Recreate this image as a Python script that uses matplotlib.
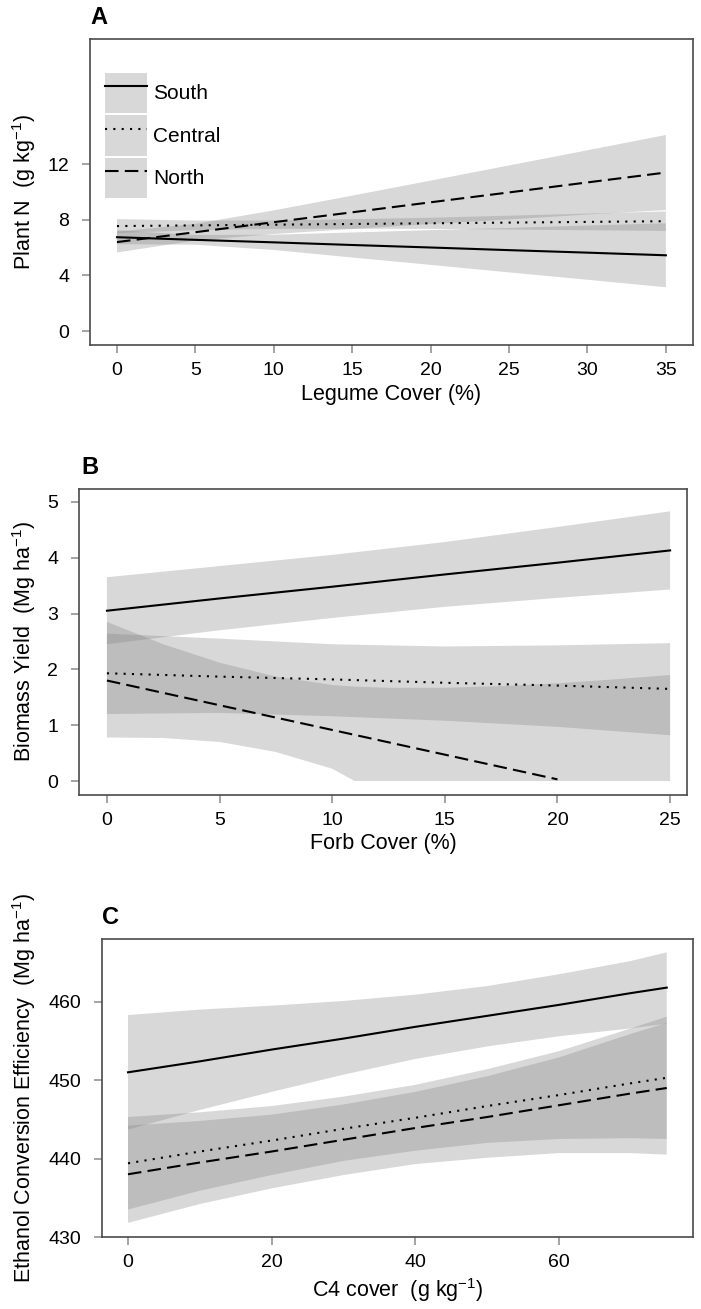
import matplotlib
matplotlib.use("Agg")
import matplotlib.pyplot as plt
from matplotlib import font_manager
from matplotlib.patches import Patch
from matplotlib.lines import Line2D

names = {f.name for f in font_manager.fontManager.ttflist}
FAM = "Liberation Sans" if "Liberation Sans" in names else "DejaVu Sans"
plt.rcParams["font.family"] = [FAM, "DejaVu Sans"]
plt.rcParams["mathtext.fontset"] = "custom"
plt.rcParams["mathtext.rm"] = FAM
plt.rcParams["mathtext.it"] = FAM + ":italic"
plt.rcParams["mathtext.default"] = "regular"

# ---------------- data ----------------
series_names = ["South", "Central", "North"]

# Panel A: Plant N vs Legume cover
a_x = [0, 5, 10, 15, 20, 25, 30, 35]
a_south_fit = [6.75, 6.56, 6.38, 6.19, 6.01, 5.82, 5.64, 5.45]
a_south_lo = [6.25, 6.21, 5.83, 5.29, 4.76, 4.22, 3.69, 3.15]
a_south_hi = [7.25, 6.91, 6.93, 7.09, 7.26, 7.42, 7.59, 7.75]
a_central_fit = [7.55, 7.60, 7.65, 7.70, 7.75, 7.80, 7.85, 7.90]
a_central_lo = [7.05, 7.25, 7.35, 7.35, 7.35, 7.30, 7.25, 7.20]
a_central_hi = [8.05, 7.95, 7.95, 8.05, 8.15, 8.30, 8.45, 8.60]
a_north_fit = [6.40, 7.11, 7.83, 8.54, 9.26, 9.97, 10.69, 11.40]
a_north_lo = [5.65, 6.51, 6.98, 7.34, 7.70, 8.03, 8.38, 8.70]
a_north_hi = [7.15, 7.71, 8.68, 9.74, 10.82, 11.91, 13.00, 14.10]
a_xticks = [0, 5, 10, 15, 20, 25, 30, 35]
a_yticks = [0, 4, 8, 12]

# Panel B: Biomass yield vs Forb cover
b_x = [0, 5, 10, 15, 20, 25]
b_south_fit = [3.05, 3.27, 3.48, 3.70, 3.91, 4.13]
b_south_lo = [2.45, 2.70, 2.92, 3.12, 3.28, 3.43]
b_south_hi = [3.65, 3.85, 4.05, 4.28, 4.55, 4.83]
b_central_fit = [1.93, 1.87, 1.82, 1.76, 1.71, 1.65]
b_central_lo = [1.20, 1.22, 1.16, 1.08, 0.97, 0.82]
b_central_hi = [2.64, 2.55, 2.45, 2.41, 2.43, 2.47]
b_north_x = [0, 2.5, 5, 7.5, 10, 11, 12.5, 15, 17.5, 20, 22.5, 25]
b_north_lo = [0.78, 0.77, 0.70, 0.52, 0.22, 0.0, 0.0, 0.0, 0.0, 0.0, 0.0, 0.0]
b_north_hi = [2.85, 2.45, 2.12, 1.87, 1.72, 1.69, 1.67, 1.67, 1.70, 1.75, 1.82, 1.90]
b_north_line_x = [0, 20]
b_north_line_y = [1.80, 0.03]
b_xticks = [0, 5, 10, 15, 20, 25]
b_yticks = [0, 1, 2, 3, 4, 5]

# Panel C: Ethanol conversion efficiency vs C4 cover
c_x = [0, 10, 20, 30, 40, 50, 60, 70, 75]
c_south_fit = [451.0, 452.4, 453.9, 455.3, 456.8, 458.2, 459.6, 461.1, 461.8]
c_south_lo = [443.7, 446.2, 448.5, 450.7, 452.7, 454.3, 455.6, 456.6, 457.2]
c_south_hi = [458.3, 459.0, 459.5, 460.1, 460.9, 462.0, 463.5, 465.2, 466.3]
c_central_fit = [439.4, 440.9, 442.3, 443.8, 445.2, 446.7, 448.1, 449.6, 450.3]
c_central_lo = [433.5, 435.9, 437.9, 439.7, 441.0, 442.0, 442.5, 442.6, 442.5]
c_central_hi = [445.3, 445.9, 446.7, 447.9, 449.4, 451.4, 453.7, 456.6, 458.1]
c_north_fit = [438.0, 439.5, 440.9, 442.4, 443.9, 445.3, 446.8, 448.3, 449.0]
c_north_lo = [431.8, 434.2, 436.2, 437.9, 439.3, 440.1, 440.7, 440.7, 440.5]
c_north_hi = [444.2, 444.8, 445.6, 446.9, 448.5, 450.5, 452.9, 455.9, 457.3]
c_xticks = [0, 20, 40, 60]
c_yticks = [430, 440, 450, 460]

# ---------------- style ----------------
W, H = 701, 1309
RIB = dict(facecolor="0.5", alpha=0.3, linewidth=0)
LW = 1.5
STY = {"South": "-", "Central": (0, (1, 3)), "North": (0, (6.5, 3))}
FS_TICK = 14
FS_LAB = 15.5
FS_LEG = 15

fig = plt.figure(figsize=(W / 100, H / 100), dpi=100)


def make_ax(L, R, T, B):
    return fig.add_axes([L / W, 1 - B / H, (R - L) / W, (B - T) / H])


def style(ax, xticks, yticks, xlim, ylim, xlabel, ylabel, ylab_x, xlab_y):
    ax.set_xlim(*xlim)
    ax.set_ylim(*ylim)
    ax.set_xticks(xticks)
    ax.set_yticks(yticks)
    ax.set_xticklabels([str(t) for t in xticks])
    ax.set_yticklabels([str(t) for t in yticks])
    for s in ax.spines.values():
        s.set_color("#4a4a4a")
        s.set_linewidth(1.2)
    ax.tick_params(axis="both", direction="out", length=6, width=1.1,
                   color="#8a8a8a", labelsize=FS_TICK, labelcolor="black")
    ax.tick_params(axis="y", pad=9)
    ax.tick_params(axis="x", pad=6)
    ax.set_xlabel(xlabel, fontsize=FS_LAB, va="baseline")
    ax.set_ylabel(ylabel, fontsize=FS_LAB, va="center")
    ax.yaxis.set_label_coords(ylab_x, 0.5)
    ax.xaxis.set_label_coords(0.5, xlab_y)


# ---- Panel A ----
axA = make_ax(90, 693, 39, 345)
for lo, hi in [(a_south_lo, a_south_hi), (a_central_lo, a_central_hi), (a_north_lo, a_north_hi)]:
    axA.fill_between(a_x, lo, hi, **RIB)
axA.plot(a_x, a_south_fit, color="k", lw=LW, ls=STY["South"])
axA.plot(a_x, a_central_fit, color="k", lw=LW, ls=STY["Central"])
axA.plot(a_x, a_north_fit, color="k", lw=LW, ls=STY["North"])
style(axA, a_xticks, a_yticks, (-1.72, 36.73), (-1.0, 21.0),
      "Legume Cover (%)", "Plant N  (g kg$^{-1}$)", (24 - 90) / 603, -0.180)

handles = [(Patch(**RIB), Line2D([], [], color="k", lw=LW, ls=STY[n])) for n in series_names]
axA.legend(handles, series_names, loc="upper left", bbox_to_anchor=(0.025, 0.889),
           borderaxespad=0, borderpad=0, frameon=False, fontsize=FS_LEG,
           handlelength=2.0, handleheight=2.6, labelspacing=0.1, handletextpad=0.3)

# ---- Panel B ----
axB = make_ax(79, 687, 489, 795)
axB.fill_between(b_x, b_south_lo, b_south_hi, **RIB)
axB.fill_between(b_x, b_central_lo, b_central_hi, **RIB)
axB.fill_between(b_north_x, b_north_lo, b_north_hi, **RIB)
axB.plot(b_x, b_south_fit, color="k", lw=LW, ls=STY["South"])
axB.plot(b_x, b_central_fit, color="k", lw=LW, ls=STY["Central"])
axB.plot(b_north_line_x, b_north_line_y, color="k", lw=LW, ls=STY["North"])
style(axB, b_xticks, b_yticks, (-1.24, 25.75), (-0.25, 5.23),
      "Forb Cover (%)", "Biomass Yield  (Mg ha$^{-1}$)", (24 - 79) / 608, -0.175)

# ---- Panel C ----
axC = make_ax(102, 693, 939, 1237)
for lo, hi in [(c_south_lo, c_south_hi), (c_central_lo, c_central_hi), (c_north_lo, c_north_hi)]:
    axC.fill_between(c_x, lo, hi, **RIB)
axC.plot(c_x, c_south_fit, color="k", lw=LW, ls=STY["South"])
axC.plot(c_x, c_central_fit, color="k", lw=LW, ls=STY["Central"])
axC.plot(c_x, c_north_fit, color="k", lw=LW, ls=STY["North"])
style(axC, c_xticks, c_yticks, (-3.62, 78.66), (430, 468.0),
      "C4 cover  (g kg$^{-1}$)", "Ethanol Conversion Efficiency  (Mg ha$^{-1}$)",
      (24 - 102) / 591, -0.203)

# panel letters
for letter, x, y in [("A", 90, 24), ("B", 81, 474), ("C", 102, 924)]:
    fig.text(x / W, 1 - y / H, letter, fontsize=17, fontweight="bold",
             ha="left", va="baseline")

fig.savefig("out.png", dpi=100)
